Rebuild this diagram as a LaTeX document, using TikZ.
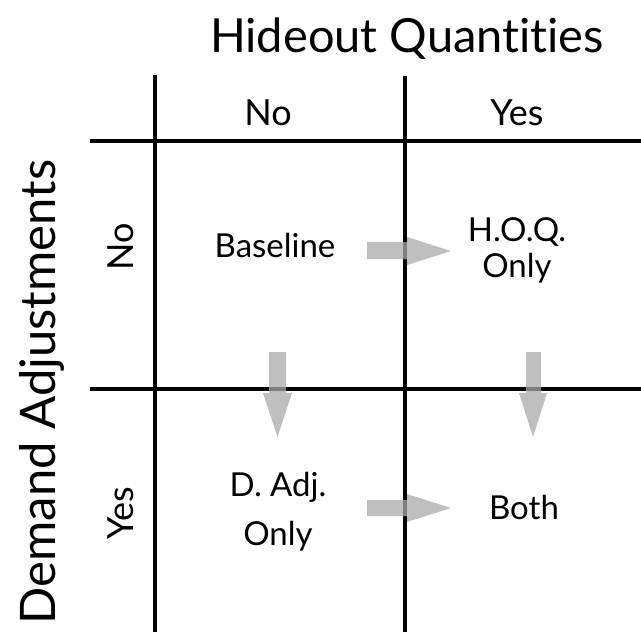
\documentclass[tikz,border=0pt]{standalone}
\usepackage{fontspec}
\setmainfont{Lato}[Ligatures=NoCommon]
\begin{document}
\begin{tikzpicture}[x=1pt,y=-1pt,
  gridline/.style={line width=4pt, black},
  garrow/.style={fill={rgb,255:red,170;green,170;blue,170}, fill opacity=0.75},
  celltext/.style={anchor=base, inner sep=0pt, font=\fontsize{33}{36}\selectfont},
  headtext/.style={anchor=base, inner sep=0pt, font=\fontsize{36}{40}\selectfont},
  titletext/.style={anchor=base, inner sep=0pt, font=\fontsize{47}{52}\selectfont}]
\useasboundingbox (0,0) rectangle (641,632);
% grid
\coordinate (v1t) at (155,75);  \coordinate (v1b) at (155,632);
\coordinate (v2t) at (405,76);  \coordinate (v2b) at (405,632);
\coordinate (h1l) at (90,141);  \coordinate (h1r) at (641,141);
\coordinate (h2l) at (90,389);  \coordinate (h2r) at (641,389);
\draw[gridline] (v1t) -- (v1b);
\draw[gridline] (v2t) -- (v2b);
\draw[gridline] (h1l) -- (h1r);
\draw[gridline] (h2l) -- (h2r);
% titles
\node[titletext] (title) at (407,52) {Hideout Quantities};
\node[titletext, rotate=90, font=\fontsize{49}{54}\selectfont] (dtitle) at (55,392) {Demand Adjustments};
% headers
\node[headtext] (hno) at (268,125) {No};
\node[headtext] (hyes) at (517,125) {Yes};
\node[headtext, rotate=90] (vno) at (133,247) {No};
\node[headtext, rotate=90] (vyes) at (133,513) {Yes};
% cells
\node[celltext] (base) at (275,257) {Baseline};
\node[celltext] (hoq1) at (517,241) {H.O.Q.};
\node[celltext] (hoq2) at (517,277) {Only};
\node[celltext] (dadj1) at (278,496) {D. Adj.};
\node[celltext] (dadj2) at (278,545) {Only};
\node[celltext] (both) at (524,519) {Both};
% arrows
\fill[garrow] (367,242) -- (407,242) -- (407,237) -- (451,251) -- (407,265) -- (407,259) -- (367,259) -- cycle;
\fill[garrow] (367,500) -- (407,500) -- (407,494) -- (451,508) -- (407,522) -- (407,516) -- (367,516) -- cycle;
\fill[garrow] (269,352) -- (286,352) -- (286,393) -- (292,393) -- (277.5,437) -- (263,393) -- (269,393) -- cycle;
\fill[garrow] (526,352) -- (541,352) -- (541,393) -- (547,393) -- (533,437) -- (519,393) -- (526,393) -- cycle;
\end{tikzpicture}
\end{document}
